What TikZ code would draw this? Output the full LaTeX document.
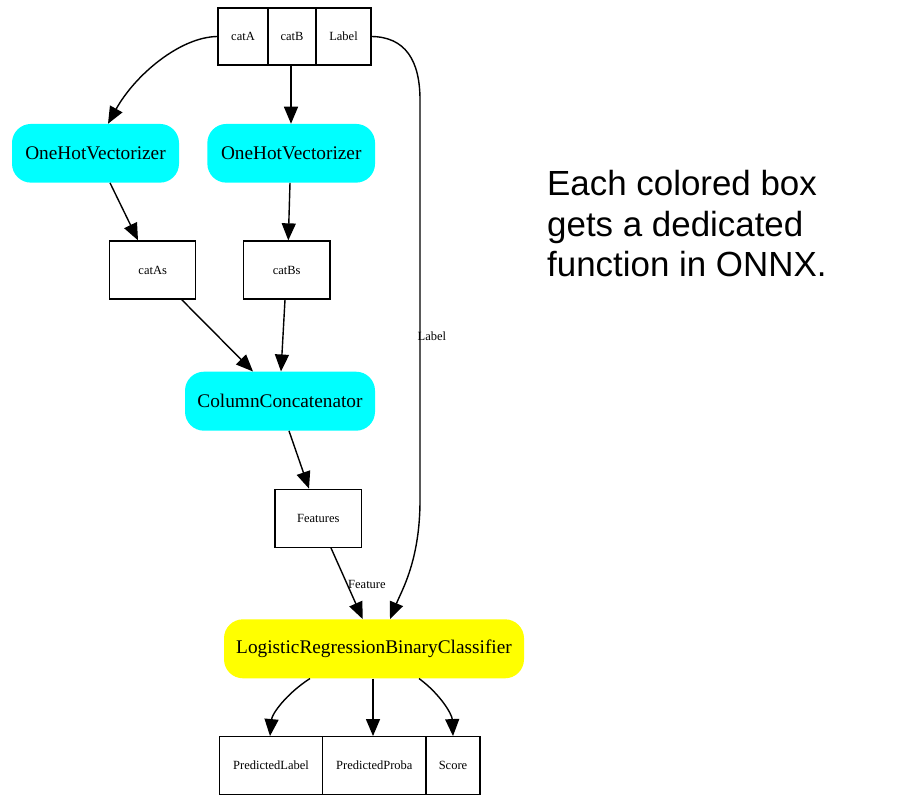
\documentclass[tikz,border=0pt]{standalone}
\usepackage{fontspec}
\setmainfont{Liberation Serif}
\newfontfamily\arialf{Liberation Sans}
\usetikzlibrary{arrows.meta}
\definecolor{aquafill}{RGB}{0,255,255}
\definecolor{yellowfill}{RGB}{255,255,0}
\begin{document}
\begin{tikzpicture}[x=1pt,y=-1pt]
\tikzset{
  bigtxt/.style={font=\fontsize{19.3}{22}\selectfont},
  smalltxt/.style={font=\fontsize{12.5}{14}\selectfont},
  fn/.style={rounded corners=19pt, inner sep=0pt, bigtxt},
  field/.style={draw, line width=1.3pt, inner sep=0pt, smalltxt},
  arr/.style={-{Triangle[length=17pt,width=14pt]}, line width=1.4pt},
  elabel/.style={inner sep=0pt, anchor=west, smalltxt},
  note/.style={inner sep=0pt, anchor=base west, font=\arialf\fontsize{34.9}{40.7}\selectfont},
}
\useasboundingbox (0,0) rectangle (917,805);
\fill[white] (0,0) rectangle (917,805);

% top record
\node[field, minimum width=50pt, minimum height=57pt] (catA) at (243,36.5) {catA};
\node[field, minimum width=48pt, minimum height=57pt] (catB) at (292,36.5) {catB};
\node[field, minimum width=55pt, minimum height=57pt] (lab) at (343.5,36.5) {Label};

% operators
\node[fn, fill=aquafill, minimum width=167pt, minimum height=58.7pt] (oh1) at (95.5,153.3) {OneHotVectorizer};
\node[fn, fill=aquafill, minimum width=167.7pt, minimum height=58.7pt] (oh2) at (291.2,153.3) {OneHotVectorizer};
\node[fn, fill=aquafill, minimum width=190pt, minimum height=59pt] (cc) at (280,401.2) {ColumnConcatenator};
\node[fn, fill=yellowfill, minimum width=300pt, minimum height=59pt] (lr) at (374,648.8) {LogisticRegressionBinaryClassifier};

% intermediate data
\node[field, minimum width=86pt, minimum height=58pt] (catAs) at (152.7,270) {catAs};
\node[field, minimum width=86.7pt, minimum height=58pt] (catBs) at (286.7,270) {catBs};
\node[field, minimum width=86.7pt, minimum height=58pt] (feat) at (318.3,518.3) {Features};

% bottom record
\node[field, minimum width=103.4pt, minimum height=57.6pt] (pl) at (271,765.5) {PredictedLabel};
\node[field, minimum width=103.3pt, minimum height=57.6pt] (pp) at (374.35,765.5) {PredictedProba};
\node[field, minimum width=54pt, minimum height=57.6pt] (sc) at (453,765.5) {Score};

% edges
\draw[arr] (catA.west) .. controls (180,37) and (135,75) .. ([xshift=12.5pt]oh1.north);
\draw[arr] ([xshift=-1pt]catB.south) -- ([xshift=-0.2pt]oh2.north);
\draw[arr] (lab.east) .. controls (405,37) and (420,60) .. (420,100) -- (420,500)
  .. controls (420,560) and (402,590) .. ([xshift=16pt]lr.north);
\draw[arr] ([xshift=14.5pt]oh1.south) -- ([xshift=-14.7pt]catAs.north);
\draw[arr] ([xshift=-1.2pt]oh2.south) -- ([xshift=1.6pt]catBs.north);
\draw[arr] ([xshift=29pt]catAs.south) -- ([xshift=-27pt]cc.north);
\draw[arr] ([xshift=-1.7pt]catBs.south) -- ([xshift=1pt]cc.north);
\draw[arr] ([xshift=9pt]cc.south) -- ([xshift=-9.3pt]feat.north);
\draw[arr] ([xshift=12.7pt]feat.south) -- ([xshift=-11.3pt]lr.north);
\draw[arr] ([xshift=-64pt]lr.south) .. controls (286,694) and (272,714) .. ([xshift=-1pt]pl.north);
\draw[arr] ([xshift=-1pt]lr.south) -- ([xshift=-1.35pt]pp.north);
\draw[arr] ([xshift=45pt]lr.south) .. controls (440,694) and (452,714) .. (sc.north);

% edge labels
\node[elabel] (lablbl) at (417.5,336) {Label};
\node[elabel] (featlbl) at (348,584) {Feature};

% note
\node[note] (t1) at (547,195.5) {Each colored box};
\node[note] (t2) at (547,236.2) {gets a dedicated};
\node[note] (t3) at (547,276.9) {function in ONNX.};
\end{tikzpicture}
\end{document}
